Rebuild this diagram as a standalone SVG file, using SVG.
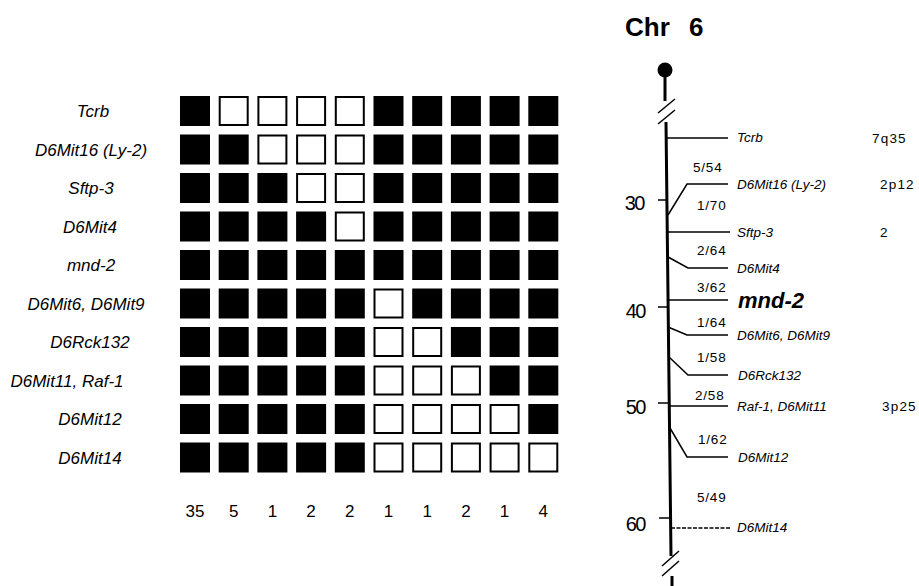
<svg xmlns="http://www.w3.org/2000/svg" width="919" height="586" viewBox="0 0 919 586">
<style>
.lbl{font-family:"Liberation Sans",Arial,sans-serif;font-style:italic;font-size:17px;fill:#000;text-anchor:middle}
.cnt{font-family:"Liberation Sans",Arial,sans-serif;font-size:17px;fill:#000;text-anchor:middle}
.b{fill:#000}
.w{fill:#fff;stroke:#000;stroke-width:2}
.mk{font-family:"Liberation Sans",Arial,sans-serif;font-style:italic;font-size:13.5px;fill:#000}
.fr{font-family:"Liberation Sans",Arial,sans-serif;font-size:13.5px;fill:#000;letter-spacing:0.8px}
.hs{font-family:"Liberation Sans",Arial,sans-serif;font-size:13.5px;fill:#000;letter-spacing:1.2px}
.sc{font-family:"Liberation Sans",Arial,sans-serif;font-size:20px;fill:#000;letter-spacing:-1.5px;text-anchor:end}
.ln{stroke:#000;stroke-width:1.5;fill:none}
.main{stroke:#000;stroke-width:3;fill:none}
</style>
<defs>
<rect id="B" class="b" width="30" height="30"/>
<rect id="W" class="w" x="1" y="1" width="28" height="28"/>
</defs>

<g id="haplotype-grid">
<g id="row-Tcrb">
<text class="lbl" x="93" y="117">Tcrb</text>
<use href="#B" x="180" y="96"/><use href="#W" x="218.7" y="96"/><use href="#W" x="257.4" y="96"/><use href="#W" x="296.1" y="96"/><use href="#W" x="334.8" y="96"/><use href="#B" x="373.5" y="96"/><use href="#B" x="412.2" y="96"/><use href="#B" x="450.9" y="96"/><use href="#B" x="489.6" y="96"/><use href="#B" x="528.3" y="96"/>
</g>
<g id="row-D6Mit16">
<text class="lbl" x="91" y="155.5">D6Mit16 (Ly-2)</text>
<use href="#B" x="180" y="134.5"/><use href="#B" x="218.7" y="134.5"/><use href="#W" x="257.4" y="134.5"/><use href="#W" x="296.1" y="134.5"/><use href="#W" x="334.8" y="134.5"/><use href="#B" x="373.5" y="134.5"/><use href="#B" x="412.2" y="134.5"/><use href="#B" x="450.9" y="134.5"/><use href="#B" x="489.6" y="134.5"/><use href="#B" x="528.3" y="134.5"/>
</g>
<g id="row-Sftp3">
<text class="lbl" x="91" y="194">Sftp-3</text>
<use href="#B" x="180" y="173"/><use href="#B" x="218.7" y="173"/><use href="#B" x="257.4" y="173"/><use href="#W" x="296.1" y="173"/><use href="#W" x="334.8" y="173"/><use href="#B" x="373.5" y="173"/><use href="#B" x="412.2" y="173"/><use href="#B" x="450.9" y="173"/><use href="#B" x="489.6" y="173"/><use href="#B" x="528.3" y="173"/>
</g>
<g id="row-D6Mit4">
<text class="lbl" x="90" y="232.5">D6Mit4</text>
<use href="#B" x="180" y="211.5"/><use href="#B" x="218.7" y="211.5"/><use href="#B" x="257.4" y="211.5"/><use href="#B" x="296.1" y="211.5"/><use href="#W" x="334.8" y="211.5"/><use href="#B" x="373.5" y="211.5"/><use href="#B" x="412.2" y="211.5"/><use href="#B" x="450.9" y="211.5"/><use href="#B" x="489.6" y="211.5"/><use href="#B" x="528.3" y="211.5"/>
</g>
<g id="row-mnd2">
<text class="lbl" x="91" y="271">mnd-2</text>
<use href="#B" x="180" y="250"/><use href="#B" x="218.7" y="250"/><use href="#B" x="257.4" y="250"/><use href="#B" x="296.1" y="250"/><use href="#B" x="334.8" y="250"/><use href="#B" x="373.5" y="250"/><use href="#B" x="412.2" y="250"/><use href="#B" x="450.9" y="250"/><use href="#B" x="489.6" y="250"/><use href="#B" x="528.3" y="250"/>
</g>
<g id="row-D6Mit6">
<text class="lbl" x="86" y="309.5">D6Mit6, D6Mit9</text>
<use href="#B" x="180" y="288.5"/><use href="#B" x="218.7" y="288.5"/><use href="#B" x="257.4" y="288.5"/><use href="#B" x="296.1" y="288.5"/><use href="#B" x="334.8" y="288.5"/><use href="#W" x="373.5" y="288.5"/><use href="#B" x="412.2" y="288.5"/><use href="#B" x="450.9" y="288.5"/><use href="#B" x="489.6" y="288.5"/><use href="#B" x="528.3" y="288.5"/>
</g>
<g id="row-D6Rck132">
<text class="lbl" x="90" y="348">D6Rck132</text>
<use href="#B" x="180" y="327"/><use href="#B" x="218.7" y="327"/><use href="#B" x="257.4" y="327"/><use href="#B" x="296.1" y="327"/><use href="#B" x="334.8" y="327"/><use href="#W" x="373.5" y="327"/><use href="#W" x="412.2" y="327"/><use href="#B" x="450.9" y="327"/><use href="#B" x="489.6" y="327"/><use href="#B" x="528.3" y="327"/>
</g>
<g id="row-D6Mit11">
<text class="lbl" x="67" y="386.5">D6Mit11, Raf-1</text>
<use href="#B" x="180" y="365.5"/><use href="#B" x="218.7" y="365.5"/><use href="#B" x="257.4" y="365.5"/><use href="#B" x="296.1" y="365.5"/><use href="#B" x="334.8" y="365.5"/><use href="#W" x="373.5" y="365.5"/><use href="#W" x="412.2" y="365.5"/><use href="#W" x="450.9" y="365.5"/><use href="#B" x="489.6" y="365.5"/><use href="#B" x="528.3" y="365.5"/>
</g>
<g id="row-D6Mit12">
<text class="lbl" x="90" y="425">D6Mit12</text>
<use href="#B" x="180" y="404"/><use href="#B" x="218.7" y="404"/><use href="#B" x="257.4" y="404"/><use href="#B" x="296.1" y="404"/><use href="#B" x="334.8" y="404"/><use href="#W" x="373.5" y="404"/><use href="#W" x="412.2" y="404"/><use href="#W" x="450.9" y="404"/><use href="#W" x="489.6" y="404"/><use href="#B" x="528.3" y="404"/>
</g>
<g id="row-D6Mit14">
<text class="lbl" x="90" y="463.5">D6Mit14</text>
<use href="#B" x="180" y="442.5"/><use href="#B" x="218.7" y="442.5"/><use href="#B" x="257.4" y="442.5"/><use href="#B" x="296.1" y="442.5"/><use href="#B" x="334.8" y="442.5"/><use href="#W" x="373.5" y="442.5"/><use href="#W" x="412.2" y="442.5"/><use href="#W" x="450.9" y="442.5"/><use href="#W" x="489.6" y="442.5"/><use href="#W" x="528.3" y="442.5"/>
</g>
<g id="counts">
<text class="cnt" x="195" y="517">35</text>
<text class="cnt" x="233.7" y="517">5</text>
<text class="cnt" x="272.4" y="517">1</text>
<text class="cnt" x="311.1" y="517">2</text>
<text class="cnt" x="349.8" y="517">2</text>
<text class="cnt" x="388.5" y="517">1</text>
<text class="cnt" x="427.2" y="517">1</text>
<text class="cnt" x="465.9" y="517">2</text>
<text class="cnt" x="504.6" y="517">1</text>
<text class="cnt" x="543.3" y="517">4</text>
</g>
</g>

<g id="chromosome">
<text x="625" y="36" font-family="Liberation Sans, Arial, sans-serif" font-weight="bold" font-size="26">Chr</text>
<text x="689" y="36" font-family="Liberation Sans, Arial, sans-serif" font-weight="bold" font-size="26">6</text>
<circle cx="665" cy="70" r="7.5" fill="#000"/>
<path class="main" d="M665,70 V101 M666,122 L671,556 M672,576 V586"/>
<path class="ln" stroke-width="2" d="M658,113 L675,99 M658,124 L675,110 M662,566 L679,551 M662,576 L679,561"/>
<g id="scale">
<path class="ln" d="M658,200 H668 M658,307 H668 M658,403 H669 M659,518 H670"/>
<text class="sc" x="644" y="210">30</text>
<text class="sc" x="645" y="318">40</text>
<text class="sc" x="645" y="414">50</text>
<text class="sc" x="645" y="531">60</text>
</g>
</g>

<g id="connectors">
<path class="ln" d="M666,138 H728"/>
<path class="ln" d="M668,215 L687,184 H728"/>
<path class="ln" d="M667,232 H730"/>
<path class="ln" d="M668,257 L688,268 H728"/>
<path class="ln" d="M668,300 H728"/>
<path class="ln" d="M668,327 L687,335 H728"/>
<path class="ln" d="M669,357 L688,375 H728"/>
<path class="ln" d="M669,406 H728"/>
<path class="ln" d="M670,428 L687,457 H728"/>
<path class="ln" d="M671,528 H730" stroke-width="1" stroke-dasharray="4,1.5"/>
</g>

<g id="marker-Tcrb"><text class="mk" x="737" y="142">Tcrb</text><text class="hs" x="872" y="143">7q35</text></g>
<g id="dist-1"><text class="fr" x="693" y="172">5/54</text></g>
<g id="marker-D6Mit16"><text class="mk" x="737" y="189">D6Mit16 (Ly-2)</text><text class="hs" x="880" y="189">2p12</text></g>
<g id="dist-2"><text class="fr" x="697" y="210">1/70</text></g>
<g id="marker-Sftp3"><text class="mk" x="737" y="237">Sftp-3</text><text class="hs" x="880" y="237">2</text></g>
<g id="dist-3"><text class="fr" x="697" y="255">2/64</text></g>
<g id="marker-D6Mit4"><text class="mk" x="737" y="273">D6Mit4</text></g>
<g id="dist-4"><text class="fr" x="697" y="292">3/62</text></g>
<g id="marker-mnd2"><text x="738" y="308" font-family="Liberation Sans, Arial, sans-serif" font-style="italic" font-weight="bold" font-size="22">mnd-2</text></g>
<g id="dist-5"><text class="fr" x="697" y="327">1/64</text></g>
<g id="marker-D6Mit6"><text class="mk" x="737" y="340">D6Mit6, D6Mit9</text></g>
<g id="dist-6"><text class="fr" x="697" y="362">1/58</text></g>
<g id="marker-D6Rck132"><text class="mk" x="738" y="380">D6Rck132</text></g>
<g id="dist-7"><text class="fr" x="695" y="400">2/58</text></g>
<g id="marker-Raf1"><text class="mk" x="737" y="411">Raf-1, D6Mit11</text><text class="hs" x="882" y="411">3p25</text></g>
<g id="dist-8"><text class="fr" x="698" y="444">1/62</text></g>
<g id="marker-D6Mit12"><text class="mk" x="738" y="462">D6Mit12</text></g>
<g id="dist-9"><text class="fr" x="697" y="502">5/49</text></g>
<g id="marker-D6Mit14"><text class="mk" x="737" y="532">D6Mit14</text></g>
</svg>
